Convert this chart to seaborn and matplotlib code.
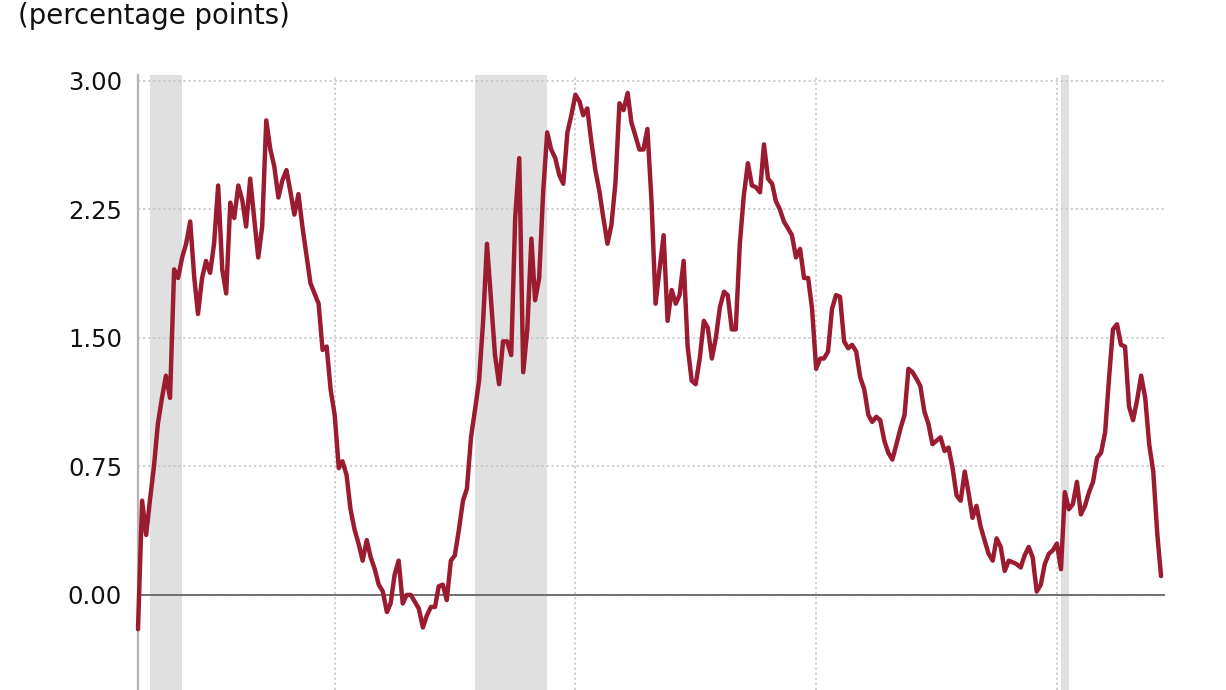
import matplotlib
matplotlib.use("Agg")
import matplotlib.pyplot as plt
import seaborn as sns
import pandas as pd

# ---------------------------------------------
# DATA: 10y minus 2y Treasury spread, monthly
# ---------------------------------------------
start_month = "2000-12-01"

spread = [
    -0.20, 0.55, 0.35, 0.55, 0.75, 1.00, 1.15, 1.28, 1.15, 1.90,  # 2000-12 .. 2001-09
    1.85, 1.97, 2.05, 2.18, 1.85, 1.64, 1.85, 1.95, 1.88, 2.05,
    2.39, 1.90, 1.76, 2.29, 2.20, 2.39, 2.30, 2.15, 2.43, 2.20,
    1.97, 2.15, 2.77, 2.60, 2.50, 2.32, 2.42, 2.48, 2.35, 2.22,
    2.34, 2.15, 1.98, 1.82, 1.76, 1.70, 1.43, 1.45, 1.20, 1.05,
    0.74, 0.78, 0.70, 0.50, 0.38, 0.30, 0.20, 0.32, 0.22, 0.15,
    0.06, 0.02, -0.10, -0.05, 0.12, 0.20, -0.05, 0.00, 0.00, -0.04,
    -0.08, -0.19, -0.12, -0.07, -0.07, 0.05, 0.06, -0.03, 0.20, 0.23,
    0.38, 0.55, 0.62, 0.92, 1.08, 1.25, 1.60, 2.05, 1.72, 1.40,
    1.23, 1.48, 1.48, 1.40, 2.20, 2.55, 1.30, 1.55, 2.08, 1.72,
    1.85, 2.35, 2.70, 2.60, 2.55, 2.45, 2.40, 2.70, 2.80, 2.92,
    2.88, 2.80, 2.84, 2.65, 2.48, 2.36, 2.20, 2.05, 2.16, 2.41,
    2.87, 2.83, 2.93, 2.76, 2.68, 2.60, 2.60, 2.72, 2.30, 1.70,
    1.90, 2.10, 1.60, 1.78, 1.70, 1.75, 1.95, 1.45, 1.25, 1.23,
    1.38, 1.60, 1.56, 1.38, 1.50, 1.68, 1.77, 1.75, 1.55, 1.55,
    2.05, 2.33, 2.52, 2.39, 2.38, 2.35, 2.63, 2.43, 2.40, 2.30,
    2.25, 2.18, 2.14, 2.10, 1.97, 2.02, 1.85, 1.85, 1.67, 1.32,
    1.38, 1.38, 1.42, 1.67, 1.75, 1.74, 1.48, 1.44, 1.46, 1.42,
    1.27, 1.20, 1.05, 1.01, 1.04, 1.02, 0.90, 0.83, 0.79, 0.88,
    0.97, 1.05, 1.32, 1.30, 1.26, 1.22, 1.07, 1.00, 0.88, 0.90,
    0.92, 0.84, 0.86, 0.74, 0.58, 0.55, 0.72, 0.60, 0.45, 0.52,
    0.40, 0.32, 0.24, 0.20, 0.33, 0.28, 0.14, 0.20, 0.19, 0.18,
    0.16, 0.23, 0.28, 0.22, 0.02, 0.06, 0.18, 0.24, 0.26, 0.30,
    0.15, 0.60, 0.50, 0.53, 0.66, 0.47, 0.52, 0.60, 0.66, 0.80,
    0.83, 0.95, 1.28, 1.55, 1.58, 1.46, 1.45, 1.10, 1.02, 1.14,
    1.28, 1.15, 0.88, 0.72, 0.35, 0.11,
]

recession_starts = ["2001-03-01", "2007-12-01", "2020-02-01"]
recession_ends = ["2001-11-01", "2009-06-01", "2020-04-01"]

y_ticks = [0.0, 0.75, 1.50, 2.25, 3.00]
y_labels = ["0.00", "0.75", "1.50", "2.25", "3.00"]
grid_years = ["2005-01-01", "2010-01-01", "2015-01-01", "2020-01-01"]
unit_label = "(percentage points)"

df = pd.DataFrame({
    "date": pd.date_range(start_month, periods=len(spread), freq="MS"),
    "spread": spread,
})

# ---------------------------------------------
# PLOT
# ---------------------------------------------
sns.set_style("white")
plt.rcParams["font.family"] = ["DejaVu Sans"]

fig = plt.figure(figsize=(12.26, 6.9), dpi=100)
ax = fig.add_axes([138 / 1226, 0, (1165 - 138) / 1226, (690 - 75) / 690])

for s, e in zip(recession_starts, recession_ends):
    ax.axvspan(pd.Timestamp(s), pd.Timestamp(e), color="#e0e0e0", lw=0, zorder=0)

ax.set_yticks(y_ticks)
ax.set_yticklabels(y_labels)
ax.set_xticks(pd.to_datetime(grid_years))
ax.grid(True, linestyle=(0, (1.5, 1.8)), color="#c4c4c4", lw=1.1, zorder=0.5)
ax.axhline(0, color="#666666", lw=1.3, zorder=1)

sns.lineplot(data=df, x="date", y="spread", color="#9b1c31", linewidth=3.2,
             ax=ax, zorder=3, clip_on=False)

ax.set_xlim(pd.Timestamp("2000-12-01"), pd.Timestamp("2022-03-31"))
ax.set_ylim(-0.555, 3.035)
ax.set_xlabel("")
ax.set_ylabel("")

for side in ["top", "right", "bottom"]:
    ax.spines[side].set_visible(False)
ax.spines["left"].set_color("#b5b5b5")
ax.spines["left"].set_linewidth(1.6)

ax.tick_params(axis="x", length=0, labelbottom=False)
ax.tick_params(axis="y", length=6.5, width=1, color="#c0c0c0", pad=5,
               labelsize=17.5, labelcolor="#111111")

fig.text(18 / 1226, 1 - 2 / 690, unit_label, ha="left", va="top",
         fontsize=19.8, color="#111111")

fig.savefig("out.png", dpi=100)
